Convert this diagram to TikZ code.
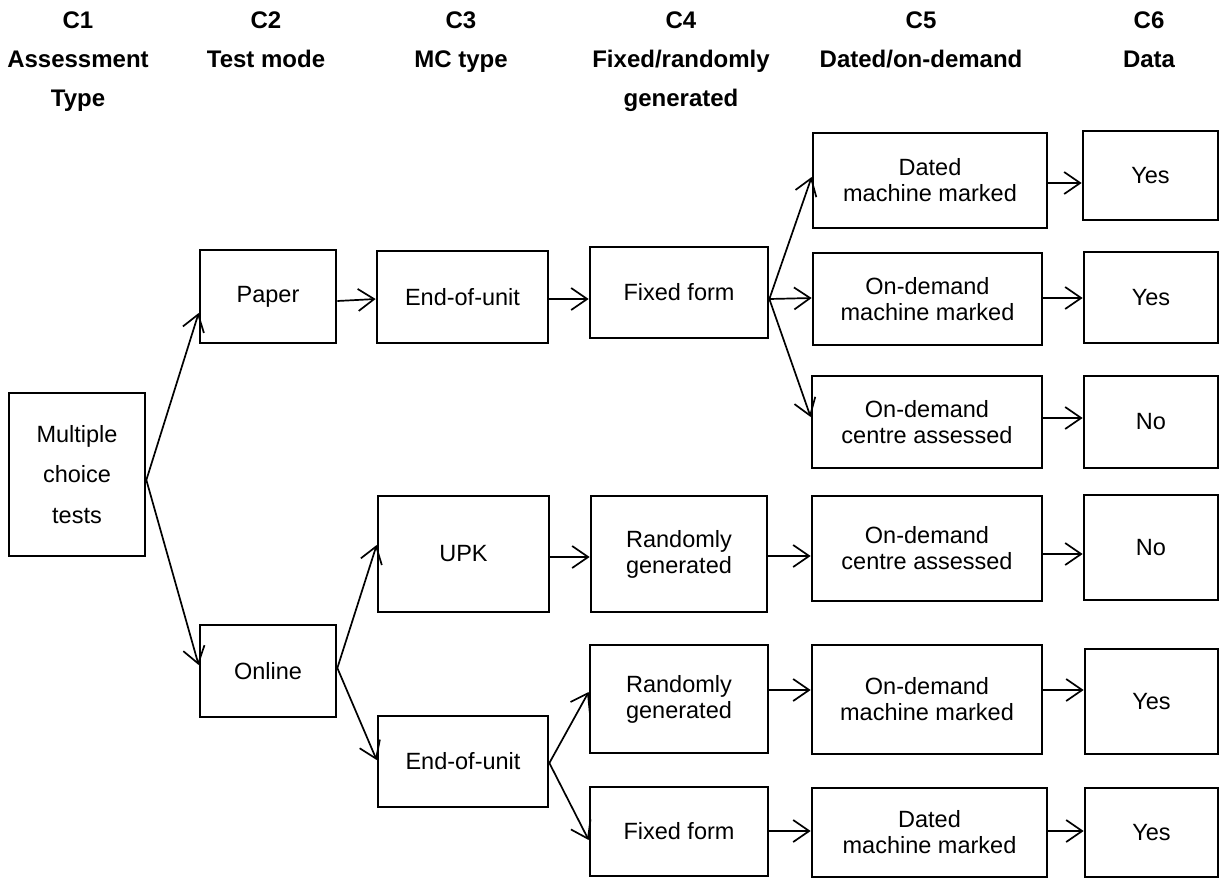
\documentclass[tikz,border=0pt]{standalone}
\usepackage{fontspec}
\setmainfont{Liberation Sans}
\usetikzlibrary{arrows.meta}
\begin{document}
\begin{tikzpicture}[x=1pt,y=-1pt,
  box/.style={draw, line width=2.7pt, inner sep=0pt, align=center, font=\fontsize{23.5}{26}\selectfont},
  hdr/.style={anchor=north, inner sep=0pt, align=center, font=\bfseries\fontsize{24}{39}\selectfont},
  arr/.style={line width=1.7pt, -{Straight Barb[length=16pt,width=22pt]}}]
\useasboundingbox (0,0) rectangle (1220,879);
% headers
\node[hdr] (h1) at (78,11.4) {C1\\Assessment\\Type};
\node[hdr] (h2) at (266,11.4) {C2\\Test mode};
\node[hdr] (h3) at (461,11.4) {C3\\MC type};
\node[hdr] (h4) at (681,11.4) {C4\\Fixed/randomly\\generated};
\node[hdr] (h5) at (921,11.4) {C5\\Dated/on-demand};
\node[hdr] (h6) at (1149,11.4) {C6\\Data};
% C1
\node[box, font=\fontsize{23.5}{40.7}\selectfont, minimum width=136pt, minimum height=163pt] (mc) at (77,474.5) {Multiple\\choice\\tests};
% C2
\node[box, minimum width=136pt, minimum height=93pt] (paper) at (268,296.5) {Paper};
\node[box, minimum width=136pt, minimum height=92pt] (online) at (268,671) {Online};
% C3
\node[box, minimum width=171pt, minimum height=92pt] (eou1) at (462.5,297) {End-of-unit};
\node[box, minimum width=171pt, minimum height=116pt] (upk) at (463.5,554) {UPK};
\node[box, minimum width=170pt, minimum height=91pt] (eou2) at (463,761.5) {End-of-unit};
% C4
\node[box, minimum width=178pt, minimum height=91pt] (ff1) at (679,292.5) {Fixed form};
\node[box, minimum width=176pt, minimum height=116pt] (rg1) at (679,554) {Randomly\\generated};
\node[box, minimum width=178pt, minimum height=108pt] (rg2) at (679,699) {Randomly\\generated};
\node[box, minimum width=178pt, minimum height=89pt] (ff2) at (679,831.5) {Fixed form};
% C5
\node[box, minimum width=234pt, minimum height=95pt] (dmm1) at (930,180.5) {Dated\\machine marked};
\node[box, minimum width=229pt, minimum height=92pt] (odmm1) at (927.5,299) {On-demand\\machine marked};
\node[box, minimum width=230pt, minimum height=92pt] (odca1) at (927,422) {On-demand\\centre assessed};
\node[box, minimum width=230pt, minimum height=105pt] (odca2) at (927,548.5) {On-demand\\centre assessed};
\node[box, minimum width=230pt, minimum height=109pt] (odmm2) at (927,699.5) {On-demand\\machine marked};
\node[box, minimum width=235pt, minimum height=89pt] (dmm2) at (929.5,832.5) {Dated\\machine marked};
% C6
\node[box, minimum width=135pt, minimum height=89pt] (yes1) at (1150.5,175.5) {Yes};
\node[box, minimum width=134pt, minimum height=91pt] (yes2) at (1151,297.5) {Yes};
\node[box, minimum width=134pt, minimum height=92pt] (no1) at (1151,422) {No};
\node[box, minimum width=134pt, minimum height=105pt] (no2) at (1151,547.5) {No};
\node[box, minimum width=133pt, minimum height=105pt] (yes3) at (1151.5,701.5) {Yes};
\node[box, minimum width=133pt, minimum height=89pt] (yes4) at (1151.5,832.5) {Yes};
% connectors
\draw[arr] ([yshift=-5.5pt]mc.east) -- ([yshift=-16.5pt]paper.west);
\draw[arr] ([yshift=-5.5pt]mc.east) -- ([yshift=6pt]online.west);
\draw[arr] ([yshift=-4.5pt]paper.east) -- ([yshift=-2pt]eou1.west);
\draw[arr] ([yshift=3pt]online.east) -- ([yshift=9pt]upk.west);
\draw[arr] ([yshift=3pt]online.east) -- ([yshift=1.5pt]eou2.west);
\draw[arr] ([yshift=-2pt]eou1.east) -- ([yshift=-6.5pt]ff1.west);
\draw[arr] ([yshift=-3pt]upk.east) -- ([yshift=-3pt]rg1.west);
\draw[arr] ([yshift=-1.5pt]eou2.east) -- ([yshift=7pt]rg2.west);
\draw[arr] ([yshift=-1.5pt]eou2.east) -- ([yshift=-8.5pt]ff2.west);
\draw[arr] ([yshift=-6.5pt]ff1.east) -- ([yshift=3.5pt]dmm1.west);
\draw[arr] ([yshift=-6.5pt]ff1.east) -- ([yshift=1pt]odmm1.west);
\draw[arr] ([yshift=-6.5pt]ff1.east) -- ([yshift=5pt]odca1.west);
\draw[arr] ([yshift=-2pt]rg1.east) -- ([yshift=-7.5pt]odca2.west);
\draw[arr] ([yshift=9pt]rg2.east) -- ([yshift=9.5pt]odmm2.west);
\draw[arr] ([yshift=0.5pt]ff2.east) -- ([yshift=1.5pt]dmm2.west);
\draw[arr] ([yshift=-2.5pt]dmm1.east) -- ([yshift=-7.5pt]yes1.west);
\draw[arr] ([yshift=1pt]odmm1.east) -- ([yshift=-0.5pt]yes2.west);
\draw[arr] ([yshift=4pt]odca1.east) -- ([yshift=4pt]no1.west);
\draw[arr] ([yshift=-5.5pt]odca2.east) -- ([yshift=-6.5pt]no2.west);
\draw[arr] ([yshift=9.5pt]odmm2.east) -- ([yshift=11.5pt]yes3.west);
\draw[arr] ([yshift=1.5pt]dmm2.east) -- ([yshift=1.5pt]yes4.west);
\end{tikzpicture}
\end{document}
